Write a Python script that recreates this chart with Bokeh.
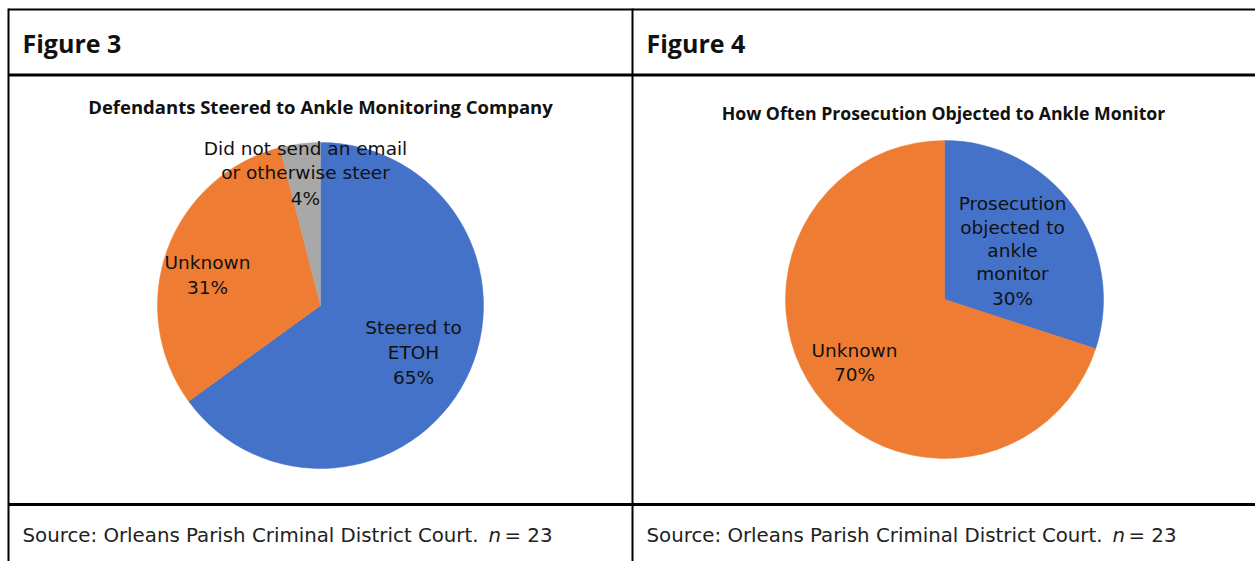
import numpy as np
from bokeh.plotting import figure
from bokeh.models import Range1d
from bokeh.core.properties import value
from bokeh.embed import file_html
from bokeh.resources import INLINE

# ---------------- data ----------------
fig3_title = "Defendants Steered to Ankle Monitoring Company"
fig3_categories = ["Steered to ETOH", "Unknown", "Did not send an email or otherwise steer"]
fig3_values = [65, 31, 4]
fig3_colors = ["#4472c8", "#ee7d33", "#a8a8a8"]
fig3_label_lines = [["Steered to", "ETOH", "65%"],
                    ["Unknown", "31%"],
                    ["Did not send an email", "or otherwise steer", "4%"]]

fig4_title = "How Often Prosecution Objected to Ankle Monitor"
fig4_categories = ["Prosecution objected to ankle monitor", "Unknown"]
fig4_values = [30, 70]
fig4_colors = ["#4472c8", "#ee7d33"]
fig4_label_lines = [["Prosecution", "objected to", "ankle", "monitor", "30%"],
                    ["Unknown", "70%"]]

panel_headers = ["Figure 3", "Figure 4"]
source_text = "Source: Orleans Parish Criminal District Court."
source_n = "n"
source_count = "= 23"

# ---------------- layout ----------------
W, H = 1255, 561
p = figure(width=W, height=H, x_range=Range1d(0, W), y_range=Range1d(0, H),
           output_backend="svg", toolbar_location=None, min_border=0,
           background_fill_color="white", border_fill_color="white")
p.axis.visible = False
p.grid.visible = False
p.outline_line_color = None

FONT_B = value("Open Sans")
FONT = value("DejaVu Sans")

# table lines
p.segment(x0=[8, 8, 8], y0=[552, 486.5, 57], x1=[W, W, W], y1=[552, 486.5, 57],
          line_color="black", line_width=[2, 3, 3])
p.segment(x0=[8, 632], y0=[0, 0], x1=[8, 632], y1=[553, 553],
          line_color="black", line_width=2)

# headers
p.text(x=[22, 646], y=[519, 519], text=panel_headers, text_font=FONT_B,
       text_font_style="bold", text_font_size="25px", text_color="#111111",
       text_baseline="middle", text_align="left")


def pie(cx, cy, r, vals, colors):
    v = np.array(vals, dtype=float)
    frac = v / v.sum()
    cum = np.concatenate([[0], np.cumsum(frac)])
    start = np.pi / 2 - cum[:-1] * 2 * np.pi
    end = np.pi / 2 - cum[1:] * 2 * np.pi
    p.wedge(x=cx, y=cy, radius=r, start_angle=start, end_angle=end,
            direction="clock", fill_color=colors, line_color=colors, line_width=0.5)


def label(x, ys, lines, size="18.5px"):
    p.text(x=[x] * len(lines), y=ys, text=lines, text_font=FONT,
           text_font_size=size, text_color="#111111",
           text_align="center", text_baseline="middle")


# Figure 3
p.text(x=[320], y=[455], text=[fig3_title], text_font=FONT_B, text_font_style="bold",
       text_font_size="18.5px", text_color="#111111", text_align="center",
       text_baseline="middle")
pie(320, 256, 163, fig3_values, fig3_colors)
label(413, [234, 209, 184], fig3_label_lines[0])
label(207, [299, 274], fig3_label_lines[1])
label(305, [413, 389, 363], fig3_label_lines[2])

# Figure 4
p.text(x=[943], y=[449], text=[fig4_title], text_font=FONT_B, text_font_style="bold",
       text_font_size="17.7px", text_color="#111111", text_align="center",
       text_baseline="middle")
pie(944, 262, 159, fig4_values, fig4_colors)
label(1012, [358, 334, 311, 288, 263], fig4_label_lines[0])
label(854, [211, 187], fig4_label_lines[1])

# source lines
for x0, xn, xc in [(22, 488, 504), (646, 1112, 1128)]:
    p.text(x=[x0], y=[26], text=[source_text], text_font=FONT, text_font_size="19.8px",
           text_color="#222222", text_align="left", text_baseline="middle")
    p.text(x=[xn], y=[26], text=[source_n], text_font=FONT, text_font_style="italic",
           text_font_size="19.8px", text_color="#222222", text_align="left",
           text_baseline="middle")
    p.text(x=[xc], y=[26], text=[source_count], text_font=FONT, text_font_size="19.8px",
           text_color="#222222", text_align="left", text_baseline="middle")

open("out.html", "w").write(file_html(p, INLINE))
